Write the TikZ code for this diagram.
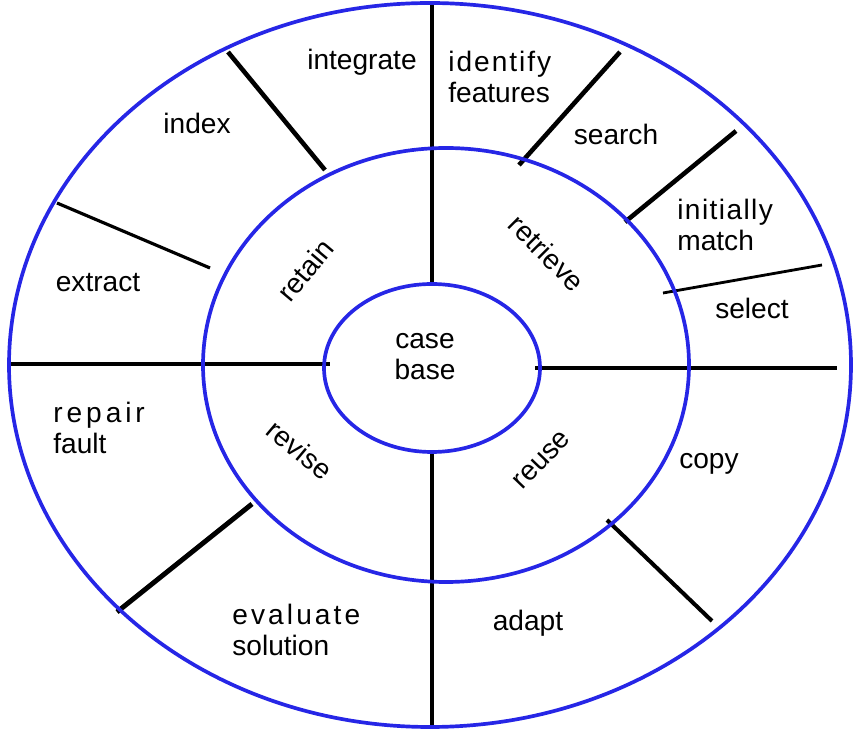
\documentclass[tikz,border=0pt]{standalone}
\usepackage{fontspec}
\setmainfont{Liberation Sans}
\definecolor{ringblue}{RGB}{38,38,230}

\begin{document}
\begin{tikzpicture}[x=0.02cm, y=-0.02cm, font=\fontsize{16}{17.6}\selectfont]
  \useasboundingbox (0,0) rectangle (853,729);
  %% 1. Spokes
  \draw[line width=2.8pt] (432,5) -- (432,284);
  \draw[line width=2.8pt] (432,452) -- (432,727);
  \draw[line width=2.8pt] (8,364) -- (330,364);
  \draw[line width=2.5pt] (535,368) -- (837,368);
  \draw[line width=2.6pt] (228,52) -- (325,170);
  \draw[line width=1.8pt] (57,203) -- (210,268);
  \draw[line width=2.6pt] (620,52) -- (519,165);
  \draw[line width=2.6pt] (736,131) -- (625,222);
  \draw[line width=1.6pt] (822,265) -- (663,293);
  \draw[line width=2.8pt] (252,504) -- (117,612);
  \draw[line width=2.3pt] (607,520) -- (712,621);
  %% 2. Rings
  \draw[line width=2.1pt, color=ringblue] (430,365) ellipse [x radius=421, y radius=362];
  \draw[line width=2.1pt, color=ringblue] (446,365) ellipse [x radius=243, y radius=217];
  \draw[line width=2.1pt, color=ringblue] (432,368) ellipse [x radius=108, y radius=84];
  %% 3. Labels
  \node (casebase) [align=center] at (425,357) {case\\base};
  \node (retain) [rotate=50] at (305,270) {retain};
  \node (retrieve) [rotate=-45] at (547,253) {retrieve};
  \node (revise) [rotate=-40] at (300,450) {revise};
  \node (reuse) [rotate=46] at (542,460) {reuse};

  \node (integrate) at (362,62) {integrate};
  \node (index) at (197,123) {index};
  \node (extract) at (98,283) {extract};
  \node (identify) [align=left, anchor=west, inner sep=0pt] at (448,77)
    {{\addfontfeature{LetterSpace=7}identify}\\features};
  \node (search) at (616,134) {search};
  \node (initially) [align=left, anchor=west, inner sep=0pt] at (677,225)
    {{\addfontfeature{LetterSpace=5}initially}\\match};
  \node (select) at (752,308) {select};
  \node (copy) at (709,464) {copy};
  \node (adapt) at (528,623) {adapt};
  \node (evaluate) [align=left, anchor=west, inner sep=0pt] at (232,630)
    {{\addfontfeature{LetterSpace=11}evaluate}\\solution};
  \node (repair) [align=left, anchor=west, inner sep=0pt] at (53,428)
    {{\addfontfeature{LetterSpace=14}repair}\\fault};
\end{tikzpicture}
\end{document}
